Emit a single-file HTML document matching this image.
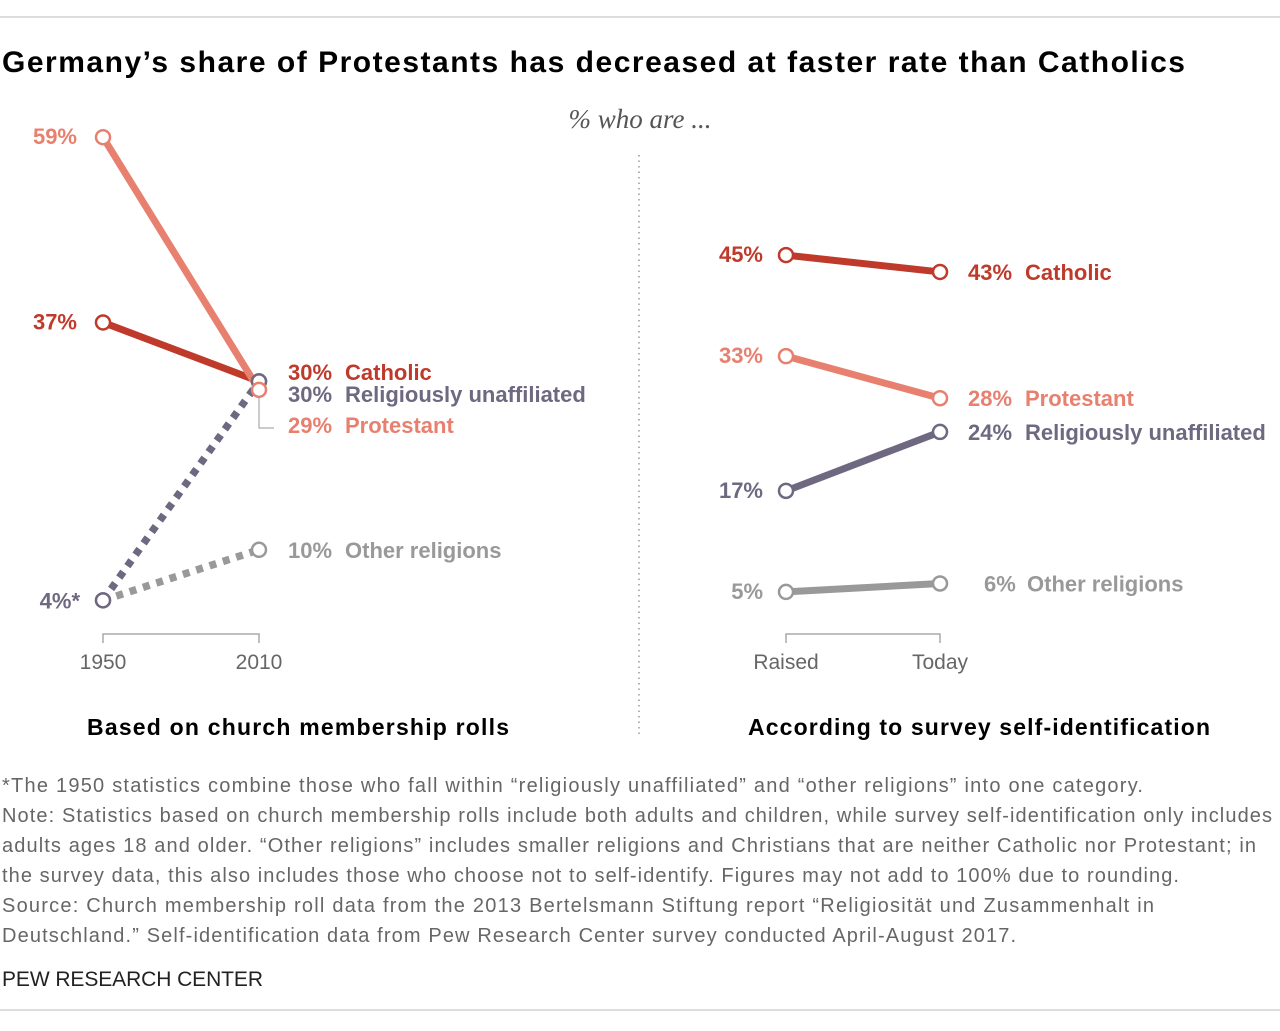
<!DOCTYPE html>
<html><head><meta charset="utf-8"><style>
body{margin:0;background:#fff;}
svg text{font-family:"Liberation Sans",sans-serif;}
</style></head><body>
<svg width="1280" height="1026" viewBox="0 0 1280 1026" xmlns="http://www.w3.org/2000/svg">
<line x1="0" y1="17" x2="1280" y2="17" stroke="#bbb" stroke-width="1"/>
<text x="2" y="72" font-size="30" font-weight="bold" fill="#000" textLength="1183">Germany’s share of Protestants has decreased at faster rate than Catholics</text>
<text x="640" y="128" font-size="27" font-style="italic" fill="#555" text-anchor="middle" style="font-family:'Liberation Serif',serif">% who are ...</text>
<line x1="639" y1="155" x2="639" y2="735" stroke="#999" stroke-width="1.5" stroke-dasharray="1.5,4"/>
<g id="left"></g>
<g id="right"></g>
<text x="298" y="735" font-size="23" font-weight="bold" text-anchor="middle" textLength="422">Based on church membership rolls</text>
<text x="979" y="735" font-size="23" font-weight="bold" text-anchor="middle" textLength="462">According to survey self-identification</text>
<g font-size="20" fill="#666">
<text x="2" y="792" textLength="1141">*The 1950 statistics combine those who fall within “religiously unaffiliated” and “other religions” into one category.</text>
<text x="2" y="822" textLength="1270">Note: Statistics based on church membership rolls include both adults and children, while survey self-identification only includes</text>
<text x="2" y="852" textLength="1254">adults ages 18 and older. “Other religions” includes smaller religions and Christians that are neither Catholic nor Protestant; in</text>
<text x="2" y="882" textLength="1177">the survey data, this also includes those who choose not to self-identify. Figures may not add to 100% due to rounding.</text>
<text x="2" y="912" textLength="1152">Source: Church membership roll data from the 2013 Bertelsmann Stiftung report “Religiosität und Zusammenhalt in</text>
<text x="2" y="942" textLength="1014">Deutschland.” Self-identification data from Pew Research Center survey conducted April-August 2017.</text>
</g>
<text x="2" y="986" font-size="21" fill="#222" textLength="261">PEW RESEARCH CENTER</text>
<line x1="0" y1="1010" x2="1280" y2="1010" stroke="#bbb" stroke-width="1"/>
</svg>
<script>
const leftCategories=["1950","2010"];
const rightCategories=["Raised","Today"];
const seriesNames=["Catholic","Protestant","Religiously unaffiliated","Other religions"];
const leftCatholic=[37,30];
const leftProtestant=[59,29];
const leftUnaffiliated=[4,30];
const leftOther=[4,10];
const rightCatholic=[45,43];
const rightProtestant=[33,28];
const rightUnaffiliated=[17,24];
const rightOther=[5,6];
const colors=["#bf3a2b","#e8806f","#6e6880","#999999"];
const NS="http://www.w3.org/2000/svg";
function y(v){return 634-8.42*v;}
function mk(parent,tag,attrs){const e=document.createElementNS(NS,tag);for(const k in attrs)e.setAttribute(k,attrs[k]);parent.appendChild(e);return e;}
function panel(g,x0,x1,cats,series,dashed,prefix){
  const ax=mk(g,'path',{d:`M${x0},643 V634 H${x1} V643`,fill:'none',stroke:'#aaa','stroke-width':1.5});
  
  
  cats.forEach((c,i)=>{const t=mk(g,'text',{x:i?x1:x0,y:669,'font-size':21,fill:'#666','text-anchor':'middle'});t.textContent=c;
    
    });
  series.forEach((s,i)=>{
    const l=mk(g,'line',{x1:x0,y1:y(s[0]),x2:x1,y2:y(s[1]),stroke:colors[i],'stroke-width':dashed[i]?7.5:7});
    if(dashed[i])l.setAttribute('stroke-dasharray','7,7');
    
    
  });
  [3,0,2,1].forEach(i=>{const s=series[i];[0,1].forEach(j=>{
    const c=mk(g,'circle',{cx:j?x1:x0,cy:y(s[j]),r:7,fill:'#fff',stroke:colors[i],'stroke-width':2.5});
    
    
  });});
}
function label(g,x,yy,txt,col,anchor,name){
  const t=mk(g,'text',{x:x,y:yy,'font-size':22,'font-weight':'bold',fill:col,'text-anchor':anchor||'start'});
  t.textContent=txt;
  
  
}
function label2(g,x,x2,yy,num,txt,col,name){
  label(g,x,yy,num+'%',col,'start',name+'-value');
  label(g,x2,yy,txt,col,'start',name+'-name');
}
const L=document.getElementById('left'),R=document.getElementById('right');
panel(L,103,259,leftCategories,[leftCatholic,leftProtestant,leftUnaffiliated,leftOther],[0,0,1,1],'left');
panel(R,786,940,rightCategories,[rightCatholic,rightProtestant,rightUnaffiliated,rightOther],[0,0,0,0],'right');
label(L,77,y(leftProtestant[0])+7,leftProtestant[0]+'%',colors[1],'end','left-label-protestant-1950');
label(L,77,y(leftCatholic[0])+7,leftCatholic[0]+'%',colors[0],'end','left-label-catholic-1950');
label(L,80,y(leftUnaffiliated[0])+8,leftUnaffiliated[0]+'%*',colors[2],'end','left-label-combined-1950');
label2(L,288,345,380,leftCatholic[1],'Catholic',colors[0],'left-label-catholic-2010');
label2(L,288,345,402,leftUnaffiliated[1],'Religiously unaffiliated',colors[2],'left-label-unaffiliated-2010');
label2(L,288,345,433,leftProtestant[1],'Protestant',colors[1],'left-label-protestant-2010');
label2(L,288,345,y(leftOther[1])+8,leftOther[1],'Other religions',colors[3],'left-label-other-2010');
const lead=mk(L,'path',{d:'M259,398 V428 H274',fill:'none',stroke:'#999','stroke-width':1});


const rs=[rightCatholic,rightProtestant,rightUnaffiliated,rightOther];
const nm=['Catholic','Protestant','Religiously unaffiliated','Other religions'];
const rx=[968,968,968,984];
const rx2=[1025,1025,1025,1027];
rs.forEach((s,i)=>{
  label(R,763,y(s[0])+7,s[0]+'%',colors[i],'end','right-label-'+i+'-raised');
  label2(R,rx[i],rx2[i],y(s[1])+8,s[1],nm[i],colors[i],'right-label-'+i+'-today');
});
</script>
</body></html>
